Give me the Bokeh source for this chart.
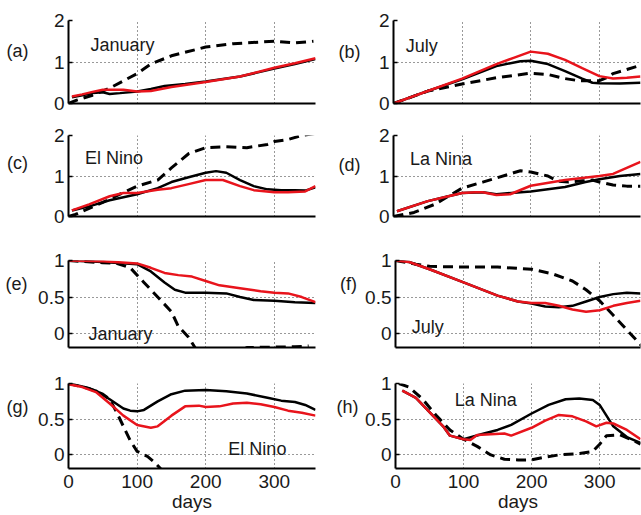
from bokeh.plotting import figure
from bokeh.layouts import column, row
from bokeh.models import Range1d, FixedTicker, Label
from bokeh.embed import file_html
from bokeh.resources import INLINE

FONT = "Liberation Sans"
RED = "#e8141c"
TXT = "#1a1a1a"

# ---------------- data (days, values) ----------------
# (a) January
a_black_d = [5, 20, 35, 50, 60, 75, 100, 120, 140, 170, 200, 250, 300, 330, 360]
a_black_v = [0.15, 0.2, 0.25, 0.27, 0.23, 0.25, 0.29, 0.35, 0.42, 0.47, 0.53, 0.65, 0.84, 0.95, 1.07]
a_red_d = [5, 20, 35, 50, 65, 80, 100, 120, 150, 200, 250, 300, 330, 360]
a_red_v = [0.17, 0.22, 0.28, 0.33, 0.33, 0.33, 0.29, 0.3, 0.4, 0.52, 0.65, 0.86, 0.97, 1.09]
a_dash_d = [0, 12, 35, 60, 100, 120, 150, 200, 240, 280, 300, 330, 357]
a_dash_v = [0.0, 0.08, 0.2, 0.37, 0.72, 0.95, 1.15, 1.36, 1.44, 1.48, 1.5, 1.46, 1.5]

# (b) July
b_black_d = [0, 50, 100, 150, 185, 200, 225, 250, 275, 290, 300, 330, 360]
b_black_v = [0.0, 0.3, 0.58, 0.9, 1.02, 1.03, 0.95, 0.78, 0.6, 0.5, 0.49, 0.48, 0.5]
b_red_d = [0, 50, 100, 150, 175, 200, 225, 250, 275, 300, 320, 340, 360]
b_red_v = [0.0, 0.3, 0.6, 0.95, 1.1, 1.25, 1.2, 1.05, 0.85, 0.66, 0.6, 0.62, 0.65]
b_dash_d = [0, 50, 100, 150, 200, 225, 250, 270, 290, 300, 310, 320, 340, 360]
b_dash_v = [0.0, 0.3, 0.47, 0.62, 0.73, 0.7, 0.6, 0.55, 0.55, 0.55, 0.62, 0.72, 0.82, 0.92]

# (c) El Nino
c_black_d = [5, 30, 60, 100, 130, 150, 175, 200, 215, 230, 250, 270, 290, 310, 330, 345, 360]
c_black_v = [0.15, 0.25, 0.4, 0.55, 0.7, 0.85, 0.97, 1.08, 1.12, 1.08, 0.9, 0.75, 0.67, 0.65, 0.65, 0.64, 0.72]
c_red_d = [5, 30, 60, 80, 100, 130, 150, 175, 200, 225, 250, 270, 300, 320, 345, 360]
c_red_v = [0.15, 0.3, 0.5, 0.58, 0.58, 0.66, 0.7, 0.8, 0.9, 0.9, 0.75, 0.65, 0.6, 0.6, 0.62, 0.75]
c_dash_d = [0, 10, 50, 100, 130, 150, 175, 200, 230, 260, 290, 300, 320, 340, 360]
c_dash_v = [0.0, 0.05, 0.35, 0.75, 0.9, 1.2, 1.55, 1.7, 1.72, 1.7, 1.78, 1.85, 1.9, 2.0, 2.05]

# (d) La Nina
d_black_d = [5, 50, 80, 100, 130, 150, 200, 250, 280, 300, 330, 360]
d_black_v = [0.13, 0.38, 0.5, 0.58, 0.6, 0.55, 0.62, 0.73, 0.85, 0.92, 1.0, 1.05]
d_red_d = [5, 50, 80, 100, 120, 130, 150, 170, 200, 250, 300, 320, 340, 360]
d_red_v = [0.13, 0.38, 0.5, 0.58, 0.6, 0.6, 0.53, 0.55, 0.76, 0.9, 1.0, 1.05, 1.2, 1.35]
d_dash_d = [0, 30, 60, 100, 130, 150, 175, 185, 200, 225, 240, 255, 275, 290, 300, 320, 340, 360]
d_dash_v = [0.0, 0.1, 0.3, 0.7, 0.85, 0.95, 1.08, 1.13, 1.1, 1.0, 0.87, 0.85, 0.88, 0.9, 0.85, 0.78, 0.75, 0.75]

# (e) January
e_black_d = [0, 50, 100, 120, 140, 155, 170, 200, 230, 250, 270, 300, 330, 360]
e_black_v = [1.0, 0.98, 0.95, 0.85, 0.7, 0.6, 0.56, 0.56, 0.55, 0.5, 0.46, 0.45, 0.43, 0.42]
e_red_d = [0, 50, 100, 120, 140, 160, 180, 200, 220, 250, 280, 300, 320, 340, 360]
e_red_v = [1.0, 0.99, 0.96, 0.9, 0.83, 0.8, 0.78, 0.72, 0.66, 0.62, 0.58, 0.56, 0.55, 0.5, 0.43]
e_dash_d = [0, 50, 70, 90, 110, 130, 150, 160, 175, 185, 210, 240, 260, 300, 330, 350]
e_dash_v = [1.0, 0.97, 0.96, 0.9, 0.7, 0.5, 0.3, 0.1, -0.05, -0.2, -0.4, -0.3, -0.19, -0.185, -0.18, -0.17]

# (f) July
f_black_d = [0, 20, 50, 100, 150, 180, 200, 220, 240, 260, 280, 300, 320, 340, 360]
f_black_v = [1.0, 0.98, 0.88, 0.7, 0.52, 0.44, 0.41, 0.37, 0.36, 0.38, 0.44, 0.5, 0.54, 0.56, 0.55]
f_red_d = [0, 20, 50, 100, 150, 180, 200, 220, 240, 260, 280, 300, 320, 340, 360]
f_red_v = [1.0, 0.98, 0.88, 0.7, 0.52, 0.44, 0.42, 0.42, 0.38, 0.33, 0.3, 0.32, 0.38, 0.42, 0.45]
f_dash_d = [0, 30, 50, 100, 150, 200, 230, 260, 280, 300, 320, 340, 355, 365]
f_dash_v = [1.0, 0.95, 0.92, 0.91, 0.91, 0.88, 0.82, 0.72, 0.6, 0.45, 0.25, 0.05, -0.1, -0.2]

# (g) El Nino
g_black_d = [0, 20, 40, 60, 80, 90, 100, 110, 130, 150, 170, 200, 230, 260, 290, 310, 330, 345, 360]
g_black_v = [1.0, 0.96, 0.9, 0.78, 0.65, 0.62, 0.61, 0.63, 0.75, 0.85, 0.9, 0.91, 0.89, 0.86, 0.8, 0.76, 0.74, 0.7, 0.63]
g_red_d = [0, 20, 40, 60, 80, 100, 120, 130, 150, 170, 190, 200, 220, 240, 260, 280, 300, 320, 340, 360]
g_red_v = [0.99, 0.95, 0.88, 0.72, 0.55, 0.42, 0.38, 0.4, 0.55, 0.68, 0.69, 0.67, 0.68, 0.72, 0.73, 0.71, 0.67, 0.62, 0.59, 0.55]
g_dash_d = [0, 30, 50, 60, 70, 80, 90, 100, 115, 125, 135, 140]
g_dash_v = [1.0, 0.93, 0.85, 0.78, 0.6, 0.4, 0.2, 0.05, -0.02, -0.1, -0.2, -0.3]

# (h) La Nina
h_black_d = [10, 30, 50, 70, 80, 100, 130, 150, 170, 200, 225, 250, 270, 290, 300, 310, 320, 340, 360]
h_black_v = [0.9, 0.8, 0.6, 0.4, 0.27, 0.22, 0.3, 0.35, 0.42, 0.58, 0.7, 0.78, 0.79, 0.77, 0.7, 0.55, 0.4, 0.25, 0.17]
h_red_d = [10, 30, 50, 70, 80, 100, 110, 120, 140, 160, 170, 200, 220, 240, 260, 280, 295, 310, 320, 340, 360]
h_red_v = [0.9, 0.8, 0.6, 0.4, 0.27, 0.22, 0.21, 0.28, 0.29, 0.3, 0.27, 0.38, 0.48, 0.56, 0.54, 0.47, 0.4, 0.45, 0.44, 0.35, 0.22]
h_dash_d = [5, 20, 40, 60, 80, 100, 120, 140, 160, 180, 200, 220, 240, 270, 290, 300, 310, 330, 350, 360]
h_dash_v = [1.0, 0.95, 0.78, 0.55, 0.35, 0.22, 0.12, 0.0, -0.06, -0.07, -0.07, -0.03, 0.0, 0.02, 0.05, 0.15, 0.27, 0.28, 0.2, 0.15]

x_ticks = [0, 100, 200, 300]
y_ticks_top = [0, 1, 2]
y_ticks_bottom = [0, 0.5, 1]

panel_letters = ["(a)", "(b)", "(c)", "(d)", "(e)", "(f)", "(g)", "(h)"]
panel_names = ["January", "July", "El Nino", "La Nina", "January", "July", "El Nino", "La Nina"]

series = [
    (a_black_d, a_black_v, a_red_d, a_red_v, a_dash_d, a_dash_v),
    (b_black_d, b_black_v, b_red_d, b_red_v, b_dash_d, b_dash_v),
    (c_black_d, c_black_v, c_red_d, c_red_v, c_dash_d, c_dash_v),
    (d_black_d, d_black_v, d_red_d, d_red_v, d_dash_d, d_dash_v),
    (e_black_d, e_black_v, e_red_d, e_red_v, e_dash_d, e_dash_v),
    (f_black_d, f_black_v, f_red_d, f_red_v, f_dash_d, f_dash_v),
    (g_black_d, g_black_v, g_red_d, g_red_v, g_dash_d, g_dash_v),
    (h_black_d, h_black_v, h_red_d, h_red_v, h_dash_d, h_dash_v),
]

# ---------------- layout geometry (pixels) ----------------
row_h = [118, 122, 120, 155]
row_top = [20, 17, 20, 23]
row_bot = [15, 24, 13, 47]
letter_w = [33, 32]        # strips holding the panel letters
panel_w = [297, 279]
panel_left = [35, 31]
panel_right = [15, 1]

# letter centres inside their strip: (x from strip left, y from row top)
letter_pos = [(17, 43), (19, 45), (17, 42), (19, 44),
              (16, 33), (18, 33), (17, 43), (17, 42)]
# panel name positions in data units (left edge, vertical centre)
name_pos = [(32, 1.42), (18, 1.38), (24, 1.45), (24, 1.42),
            (29, -0.01), (24, 0.09), (233, 0.08), (87, 0.77)]


def make_letter(i):
    r, c = divmod(i, 2)
    w, h = letter_w[c], row_h[r]
    p = figure(width=w, height=h, output_backend="svg", toolbar_location=None,
               x_range=Range1d(0, w), y_range=Range1d(0, h),
               x_axis_type=None, y_axis_type=None,
               min_border_left=0, min_border_right=0,
               min_border_top=0, min_border_bottom=0)
    p.outline_line_color = None
    p.grid.visible = False
    lx, ly = letter_pos[i]
    p.add_layout(Label(x=lx, y=h - ly, text=panel_letters[i], text_align="center",
                       text_baseline="middle", text_font=FONT,
                       text_font_size="18px", text_color=TXT))
    return p


def make_panel(i):
    r, c = divmod(i, 2)
    top = r < 2
    p = figure(width=panel_w[c], height=row_h[r], output_backend="svg",
               toolbar_location=None, x_range=Range1d(0, 360),
               y_range=Range1d(0, 2) if top else Range1d(-0.19, 1),
               min_border_left=panel_left[c], min_border_right=panel_right[c],
               min_border_top=row_top[r], min_border_bottom=row_bot[r])
    p.outline_line_color = None

    bd, bv, rd, rv, dd, dv = series[i]
    p.line(dd, dv, line_color="black", line_width=3, line_dash="10 6")
    p.line(bd, bv, line_color="black", line_width=2.5)
    p.line(rd, rv, line_color=RED, line_width=2.5)

    p.xgrid.ticker = FixedTicker(ticks=x_ticks)
    for g in (p.xgrid, p.ygrid):
        g.grid_line_color = "#333333"
        g.grid_line_dash = "1 3"
        g.grid_line_width = 1
    p.xaxis.ticker = FixedTicker(ticks=x_ticks if r == 3 else [])
    p.yaxis.ticker = FixedTicker(ticks=y_ticks_top if top else y_ticks_bottom)
    p.yaxis.major_label_overrides = {0: "0", 0.5: "0.5", 1: "1", 2: "2"}

    for ax in (p.xaxis, p.yaxis):
        ax.axis_line_width = 2
        ax.axis_line_color = "black"
        ax.major_tick_in = 4
        ax.major_tick_out = 0
        ax.major_tick_line_width = 1.5
        ax.minor_tick_line_color = None
        ax.major_label_text_font = FONT
        ax.major_label_text_font_size = "19px"
        ax.major_label_text_color = TXT
    p.yaxis.major_label_standoff = 4
    p.xaxis.major_tick_in = 0

    if r == 3:
        p.xaxis.major_label_standoff = 6
        p.xaxis.axis_label = "days"
        p.xaxis.axis_label_text_font = FONT
        p.xaxis.axis_label_text_font_size = "19px"
        p.xaxis.axis_label_text_font_style = "normal"
        p.xaxis.axis_label_text_color = TXT
        p.xaxis.axis_label_standoff = 0
    else:
        p.xaxis.major_label_standoff = 0

    nx, ny = name_pos[i]
    p.add_layout(Label(x=nx, y=ny, text=panel_names[i], text_align="left",
                       text_baseline="middle", text_font=FONT,
                       text_font_size="18px", text_color=TXT))
    return p


rows = []
for k in range(4):
    i, j = 2 * k, 2 * k + 1
    rows.append(row(make_letter(i), make_panel(i), make_letter(j), make_panel(j), spacing=0))
layout = column(*rows, spacing=0)

open("out.html", "w").write(file_html(layout, INLINE))
